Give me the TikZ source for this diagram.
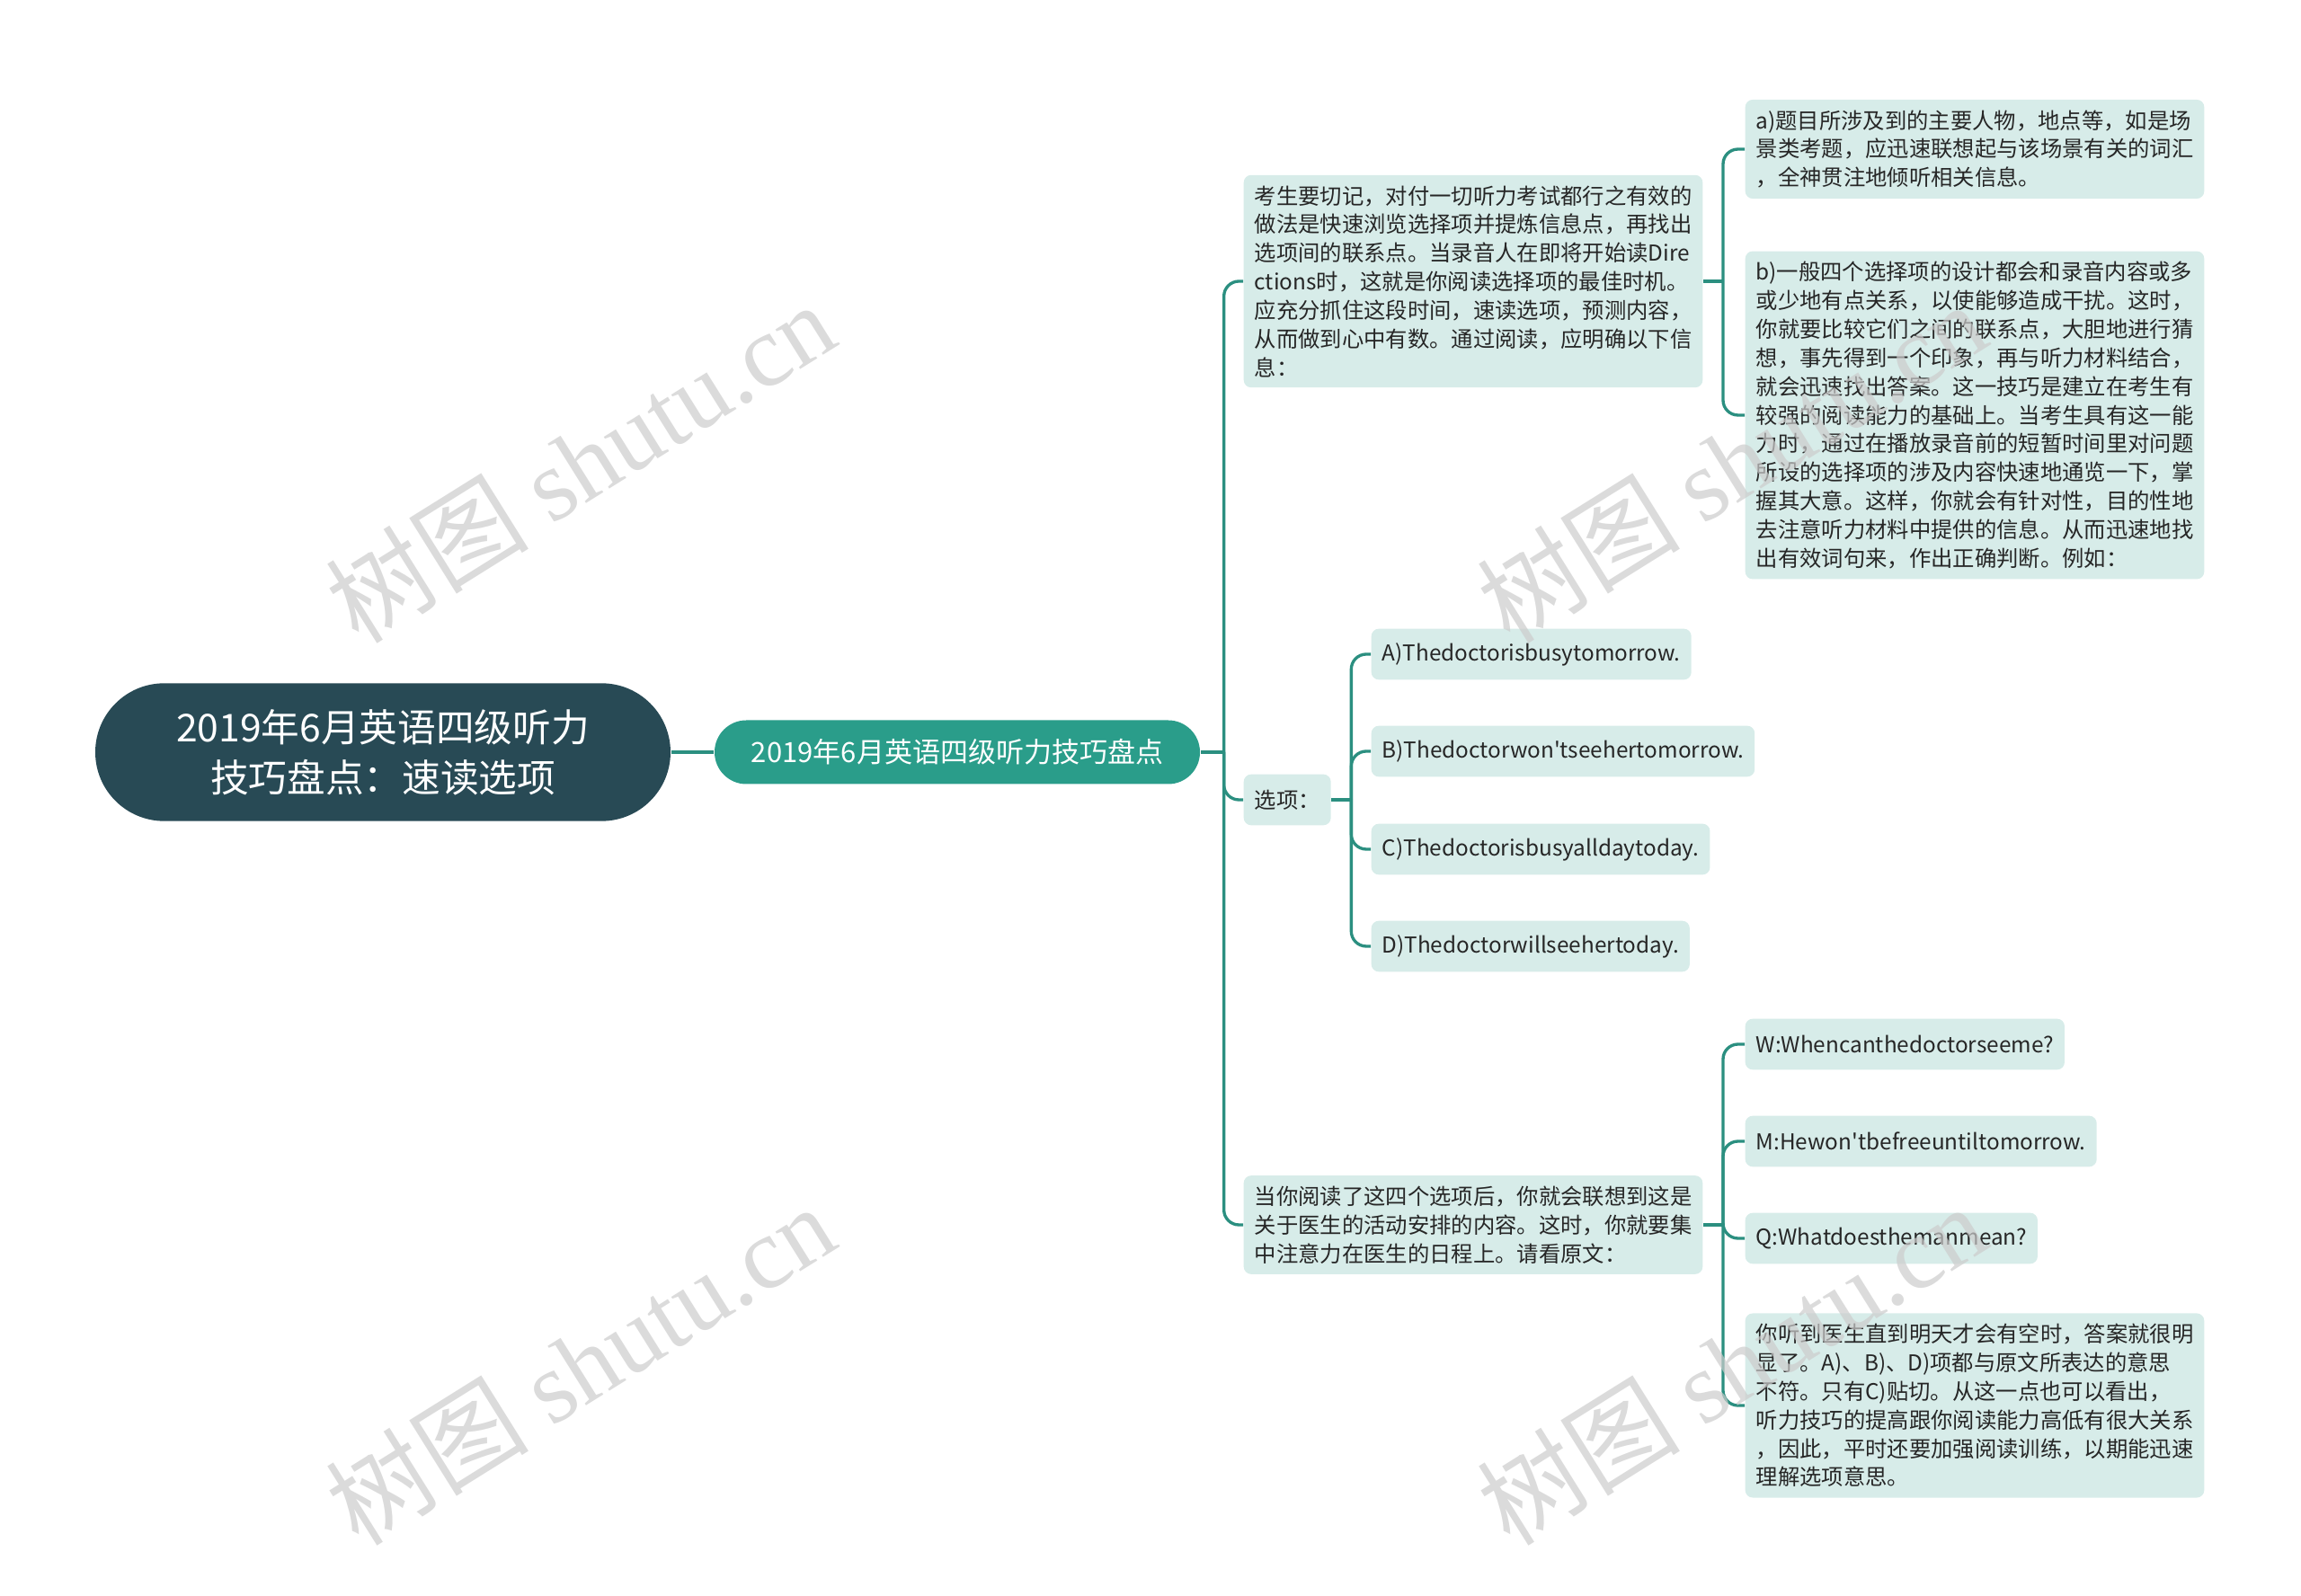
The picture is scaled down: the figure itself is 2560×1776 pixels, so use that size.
\documentclass[tikz,border=0pt]{standalone}
\usepackage{fontspec}
\setmainfont{Noto Sans CJK SC}
\newfontfamily\markfont{Liberation Serif}
\definecolor{rootcol}{HTML}{284A55}
\definecolor{maincol}{HTML}{2A9D8A}
\definecolor{leafcol}{HTML}{D7ECE9}
\definecolor{linecol}{HTML}{2B8F80}

\begin{document}
\begin{tikzpicture}[x=0.3pt, y=-0.3pt,
    rootbox/.style={rectangle, fill=rootcol, text=white, rounded corners=23pt, minimum width=192pt, minimum height=46pt, align=center, font=\fontsize{12.8pt}{16.7pt}\selectfont},
    mainbox/.style={rectangle, fill=maincol, text=white, rounded corners=10.6pt, minimum width=162pt, minimum height=21.3pt, font=\fontsize{9.3pt}{10pt}\selectfont},
    leafbox/.style={rectangle, fill=leafcol, text=black!85, rounded corners=2.5pt, anchor=west, align=left, inner xsep=3.6pt, inner ysep=3.5pt, minimum height=17pt, font=\fontsize{7.3pt}{9.55pt}\selectfont},
    longbox/.style={text width=146pt},
    link/.style={draw=linecol, line width=1pt, rounded corners=5pt},
    watermark/.style={rotate=32, text=black!20, opacity=0.7, font=\fontsize{34pt}{34pt}\selectfont}]
    \useasboundingbox (0,0) rectangle (2560,1776);

    \node (root) [rootbox] at (426,837) {2019年6月英语四级听力\\技巧盘点：速读选项};
    \node (main) [mainbox] at (1065,837) {2019年6月英语四级听力技巧盘点};

    \node (tips) [leafbox, longbox] at (1383,313) {考生要切记，对付一切听力考试都行之有效的\\做法是快速浏览选择项并提炼信息点，再找出\\选项间的联系点。当录音人在即将开始读Dire\\ctions时，这就是你阅读选择项的最佳时机。\\应充分抓住这段时间，速读选项，预测内容，\\从而做到心中有数。通过阅读，应明确以下信\\息：};
    \node (opts) [leafbox] at (1383,890) {选项：};
    \node (plan) [leafbox, longbox] at (1383,1363) {当你阅读了这四个选项后，你就会联想到这是\\关于医生的活动安排的内容。这时，你就要集\\中注意力在医生的日程上。请看原文：};

    \node (infoA) [leafbox, longbox] at (1941,166) {a)题目所涉及到的主要人物，地点等，如是场\\景类考题，应迅速联想起与该场景有关的词汇\\，全神贯注地倾听相关信息。};
    \node (infoB) [leafbox, longbox] at (1941,462) {b)一般四个选择项的设计都会和录音内容或多\\或少地有点关系，以使能够造成干扰。这时，\\你就要比较它们之间的联系点，大胆地进行猜\\想，事先得到一个印象，再与听力材料结合，\\就会迅速找出答案。这一技巧是建立在考生有\\较强的阅读能力的基础上。当考生具有这一能\\力时，通过在播放录音前的短暂时间里对问题\\所设的选择项的涉及内容快速地通览一下，掌\\握其大意。这样，你就会有针对性，目的性地\\去注意听力材料中提供的信息。从而迅速地找\\出有效词句来，作出正确判断。例如：};

    \node (optA) [leafbox] at (1525,728) {A)Thedoctorisbusytomorrow.};
    \node (optB) [leafbox] at (1525,836) {B)Thedoctorwon\textquotesingle tseehertomorrow.};
    \node (optC) [leafbox] at (1525,945) {C)Thedoctorisbusyalldaytoday.};
    \node (optD) [leafbox] at (1525,1053) {D)Thedoctorwillseehertoday.};

    \node (talkW) [leafbox] at (1941,1162) {W:Whencanthedoctorseeme?};
    \node (talkM) [leafbox] at (1941,1270) {M:Hewon\textquotesingle tbefreeuntiltomorrow.};
    \node (talkQ) [leafbox] at (1941,1378) {Q:Whatdoesthemanmean?};
    \node (answer) [leafbox, longbox] at (1941,1564) {你听到医生直到明天才会有空时，答案就很明\\显了。A)、B)、D)项都与原文所表达的意思\\不符。只有C)贴切。从这一点也可以看出，\\听力技巧的提高跟你阅读能力高低有很大关系\\，因此，平时还要加强阅读训练，以期能迅速\\理解选项意思。};

    \draw [link] (root) -- (main);
    \draw [link] (main.east) -- ++(26,0) coordinate (mainfork);
    \foreach \kid in {tips,opts,plan}
        \draw [link] (mainfork) |- (\kid.west);

    \draw [link] (tips.east) -- ++(22,0) coordinate (tipsfork);
    \foreach \kid in {infoA,infoB}
        \draw [link] (tipsfork) |- (\kid.west);

    \draw [link] (opts.east) -- ++(22,0) coordinate (optsfork);
    \foreach \kid in {optA,optB,optC,optD}
        \draw [link] (optsfork) |- (\kid.west);

    \draw [link] (plan.east) -- ++(22,0) coordinate (planfork);
    \foreach \kid in {talkW,talkM,talkQ,answer}
        \draw [link] (planfork) |- (\kid.west);

    \foreach \wx/\wy in {645/514, 1926/514, 645/1518, 1926/1518}
        \node (mark-\wx-\wy) [watermark] at (\wx,\wy) {树图 {\markfont shutu.cn}};
\end{tikzpicture}
\end{document}
